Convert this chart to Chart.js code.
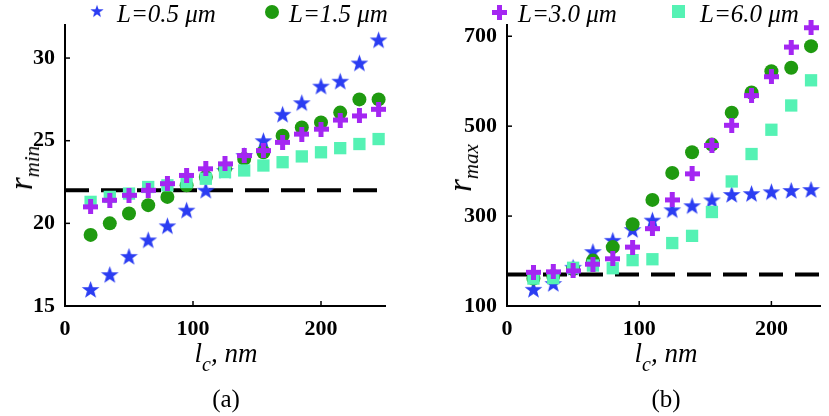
<!DOCTYPE html>
<html>
<head>
<meta charset="utf-8">
<script src="https://cdn.jsdelivr.net/npm/chart.js@4.4.1/dist/chart.umd.min.js"></script>
<style>
  body { margin: 0; background: #fff; width: 829px; height: 416px; overflow: hidden; position: relative; font-family: "Liberation Serif", "Times New Roman", serif; }
  canvas.plot { position: absolute; top: 0; }
  .txt { position: absolute; white-space: nowrap; color: #000; line-height: 1; }
  .leg { font-style: italic; font-size: 25px; }
  .legmark { position: absolute; }
  .ytitle { transform: translate(-50%, -50%) rotate(-90deg); font-style: italic; font-size: 33px; }
  .ytitle sub { font-size: 21px; vertical-align: -7px; }
  .xtitle { transform: translateX(-50%); font-style: italic; font-size: 27px; }
  .xtitle sub { font-size: 20px; vertical-align: -9px; }
  .cap { transform: translateX(-50%); font-size: 25px; }
</style>
</head>
<body>
<canvas id="chartA" class="plot" width="410" height="345" style="left:0"></canvas>
<canvas id="chartB" class="plot" width="409" height="345" style="left:420px"></canvas>
<div id="legend"></div>
<div class="txt ytitle" style="left:24px; top:168px"><span>r</span><sub>min</sub></div>
<div class="txt ytitle" style="left:463px; top:168px"><span>r</span><sub>max</sub></div>
<div class="txt xtitle" style="left:226px; top:340px">l<sub>c</sub>, nm</div>
<div class="txt xtitle" style="left:666px; top:340px">l<sub>c</sub>, nm</div>
<div class="txt cap" style="left:226px; top:386px">(a)</div>
<div class="txt cap" style="left:666px; top:386px">(b)</div>
<script>
// x positions (correlation length, nm)
const lcLeft = [20, 35, 50, 65, 80, 95, 110, 125, 140, 155, 170, 185, 200, 215, 230, 245];
const lcRight = [20, 35, 50, 65, 80, 95, 110, 125, 140, 155, 170, 185, 200, 215, 230];

// panel (a): r_min
const rminL05 = [16.0, 16.9, 18.0, 19.0, 19.85, 20.8, 22.0, 23.2, 24.1, 25.0, 26.6, 27.3, 28.3, 28.6, 29.7, 31.1];
const rminL15 = [19.3, 20.0, 20.6, 21.1, 21.6, 22.3, 22.8, 23.3, 23.9, 24.3, 25.3, 25.8, 26.1, 26.7, 27.5, 27.5];
const rminL30 = [21.0, 21.4, 21.7, 22.0, 22.4, 22.9, 23.3, 23.6, 24.1, 24.4, 24.9, 25.4, 25.7, 26.25, 26.5, 26.9];
const rminL60 = [21.3, 21.6, 21.8, 22.2, 22.3, 22.5, 22.7, 23.1, 23.2, 23.5, 23.7, 24.05, 24.3, 24.55, 24.8, 25.1];

// panel (b): r_max
const rmaxL05 = [137, 150, 186, 221, 246, 270, 291, 314, 323, 336, 348, 350, 354, 357, 359];
const rmaxL15 = [161, 167, 182, 201, 231, 282, 336, 396, 442, 459, 530, 575, 622, 630, 678];
const rmaxL30 = [175, 176, 178, 193, 205, 231, 272, 336, 394, 457, 502, 568, 610, 676, 719];
const rmaxL60 = [161, 162, 185, 190, 184, 202, 204, 240, 256, 309, 377, 438, 492, 546, 602];

const rminLevel = 22;
const rmaxLevel = 170;

const lcTicks = [0, 100, 200];
const rminTicks = [15, 20, 25, 30];
const rmaxTicks = [100, 300, 500, 700];

const legendLabels = ["L=0.5 \u03bcm", "L=1.5 \u03bcm", "L=3.0 \u03bcm", "L=6.0 \u03bcm"];

const colors = {
  blue: "#2b3df2",
  green: "#1f9a10",
  purple: "#a426f2",
  aqua: "#55f2b4",
};

// marker images
function starImage(color) {
  const c = document.createElement("canvas");
  c.width = 19; c.height = 19;
  const g = c.getContext("2d");
  g.fillStyle = color;
  g.beginPath();
  for (let i = 0; i < 10; i++) {
    const r = i % 2 === 0 ? 9.3 : 3.8;
    const a = -Math.PI / 2 + i * Math.PI / 5;
    const px = 9.5 + r * Math.cos(a);
    const py = 10.2 + r * Math.sin(a);
    if (i === 0) g.moveTo(px, py); else g.lineTo(px, py);
  }
  g.closePath();
  g.fill();
  return c;
}

function plusImage(color) {
  const c = document.createElement("canvas");
  c.width = 15; c.height = 15;
  const g = c.getContext("2d");
  g.fillStyle = color;
  g.fillRect(5, 0, 5, 15);
  g.fillRect(0, 5, 15, 5);
  return c;
}

const starMark = starImage(colors.blue);
const plusMark = plusImage(colors.purple);

function pts(xs, ys) {
  return xs.map((x, i) => ({ x: x, y: ys[i] }));
}

function scatterSet(data, style, order) {
  return Object.assign({ type: "scatter", data: data, order: order, clip: false, borderWidth: 0 }, style);
}

function buildDatasets(xs, s05, s15, s30, s60, level, xMax) {
  return [
    scatterSet(pts(xs, s30), { pointStyle: plusMark, pointRadius: 7 }, 0),
    scatterSet(pts(xs, s60), { pointStyle: "rect", pointRadius: 8.7, backgroundColor: colors.aqua }, 1),
    scatterSet(pts(xs, s15), { pointStyle: "circle", pointRadius: 7, backgroundColor: colors.green }, 2),
    scatterSet(pts(xs, s05), { pointStyle: starMark, pointRadius: 8 }, 3),
    {
      type: "line",
      data: [{ x: 0, y: level }, { x: xMax, y: level }],
      borderColor: "#000",
      borderWidth: 4,
      borderDash: [24, 12],
      pointRadius: 0,
      order: 4,
      clip: false,
    },
  ];
}

const inwardTicks = {
  id: "inwardTicks",
  afterDraw(chart) {
    const { ctx, chartArea, scales } = chart;
    ctx.save();
    ctx.strokeStyle = "#000";
    ctx.lineWidth = 1.5;
    scales.x.ticks.forEach((t) => {
      const px = scales.x.getPixelForValue(t.value);
      ctx.beginPath();
      ctx.moveTo(px, chartArea.bottom);
      ctx.lineTo(px, chartArea.bottom - 5);
      ctx.stroke();
    });
    scales.y.ticks.forEach((t) => {
      const py = scales.y.getPixelForValue(t.value);
      ctx.beginPath();
      ctx.moveTo(chartArea.left, py);
      ctx.lineTo(chartArea.left + 5, py);
      ctx.stroke();
    });
    ctx.restore();
  },
};

const tickFont = { family: "Liberation Serif", size: 22, weight: "bold" };

function makeChart(id, datasets, xMax, yMin, yMax, yTicks, yWidth, padRight) {
  return new Chart(document.getElementById(id), {
    data: { datasets: datasets },
    plugins: [inwardTicks],
    options: {
      responsive: false,
      animation: false,
      layout: { padding: { top: 25, right: padRight, left: 0, bottom: 0 } },
      plugins: { legend: { display: false }, tooltip: { enabled: false } },
      scales: {
        x: {
          type: "linear",
          min: 0,
          max: xMax,
          grid: { display: false },
          border: { display: true, color: "#000", width: 2 },
          afterBuildTicks: (s) => { s.ticks = lcTicks.map((v) => ({ value: v })); },
          afterFit: (s) => { s.height = 39; },
          ticks: { color: "#000", font: tickFont, padding: 2, maxRotation: 0 },
        },
        y: {
          type: "linear",
          min: yMin,
          max: yMax,
          grid: { display: false },
          border: { display: true, color: "#000", width: 2 },
          afterBuildTicks: (s) => { s.ticks = yTicks.map((v) => ({ value: v })); },
          afterFit: (s) => { s.width = yWidth; },
          ticks: { color: "#000", font: tickFont, padding: 2 },
        },
      },
    },
  });
}

makeChart("chartA", buildDatasets(lcLeft, rminL05, rminL15, rminL30, rminL60, rminLevel, 250), 250, 15, 32, rminTicks, 65, 25);
makeChart("chartB", buildDatasets(lcRight, rmaxL05, rmaxL15, rmaxL30, rmaxL60, rmaxLevel, 237), 237, 100, 725, rmaxTicks, 87, 7);

// legend
const legendSpots = [
  { mx: 97, tx: 117, kind: "star" },
  { mx: 272, tx: 289, kind: "circle" },
  { mx: 499, tx: 518, kind: "plus" },
  { mx: 678, tx: 700, kind: "square" },
];
const legend = document.getElementById("legend");
legendSpots.forEach((spot, i) => {
  const m = document.createElement("canvas");
  m.width = 20; m.height = 20;
  m.className = "legmark";
  m.style.left = (spot.mx - 10) + "px";
  m.style.top = "2px";
  const g = m.getContext("2d");
  if (spot.kind === "star") {
    g.drawImage(starImage(colors.blue), 3, 2, 14, 14);
  } else if (spot.kind === "circle") {
    g.fillStyle = colors.green;
    g.beginPath(); g.arc(10, 10, 7, 0, Math.PI * 2); g.fill();
  } else if (spot.kind === "plus") {
    g.drawImage(plusImage(colors.purple), 3, 3);
  } else {
    g.fillStyle = colors.aqua;
    g.fillRect(4, 3, 13, 13);
  }
  legend.appendChild(m);
  const t = document.createElement("div");
  t.className = "txt leg";
  t.style.left = spot.tx + "px";
  t.style.top = "1px";
  t.textContent = legendLabels[i];
  legend.appendChild(t);
});
</script>
</body>
</html>
